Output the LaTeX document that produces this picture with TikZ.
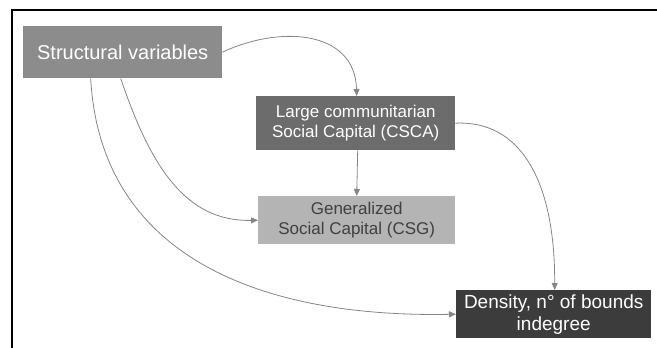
\documentclass[tikz,border=0pt]{standalone}
\usepackage{fontspec}
\setmainfont{Liberation Sans}
\usetikzlibrary{arrows.meta}
\definecolor{cStruct}{HTML}{8C8C8C}
\definecolor{cLarge}{HTML}{6C6C6C}
\definecolor{cGen}{HTML}{B4B4B4}
\definecolor{cDens}{HTML}{3C3C3C}
\definecolor{cLine}{HTML}{858585}
\begin{document}
\begin{tikzpicture}[x=1pt,y=-1pt,
  box/.style={rectangle, inner sep=0pt, align=center, anchor=north west},
  conn/.style={draw=cLine, line width=0.8pt, -{Triangle[length=7pt,width=6pt]}}]
\useasboundingbox (0,0) rectangle (657,348);
\draw[line width=2pt] (12,348) -- (12,10) -- (657,10);
\node[box, fill=cStruct, text=white, minimum width=199pt, minimum height=52pt, font=\fontsize{20}{22}\selectfont] (sv) at (23,26) {Structural variables};
\node[box, fill=cLarge, text=white, minimum width=199pt, minimum height=54pt, font=\fontsize{17}{20}\selectfont] (lc) at (256,96) {Large communitarian\\Social Capital (CSCA)};
\node[box, fill=cGen, text=black!75, minimum width=197pt, minimum height=48pt, font=\fontsize{17}{20}\selectfont] (gc) at (258,196) {Generalized\\Social Capital (CSG)};
\node[box, fill=cDens, text=white, minimum width=195pt, minimum height=48pt, font=\fontsize{19}{22}\selectfont] (dn) at (456,290) {Density, n° of bounds\\indegree};
\draw[conn] (sv.east) .. controls (280,25) and (355,30) .. ([xshift=1pt]lc.north);
\draw[conn] ([xshift=-2pt]sv.south) .. controls (150,165) and (185,222) .. (gc.west);
\draw[conn] ([xshift=-32pt]sv.south) .. controls (100,250) and (250,318) .. (dn.west);
\draw[conn] ([xshift=2pt]lc.south) -- ([xshift=0pt]gc.north);
\draw[conn] (lc.east) .. controls (520,120) and (555,180) .. ([xshift=1pt]dn.north);
\end{tikzpicture}
\end{document}
